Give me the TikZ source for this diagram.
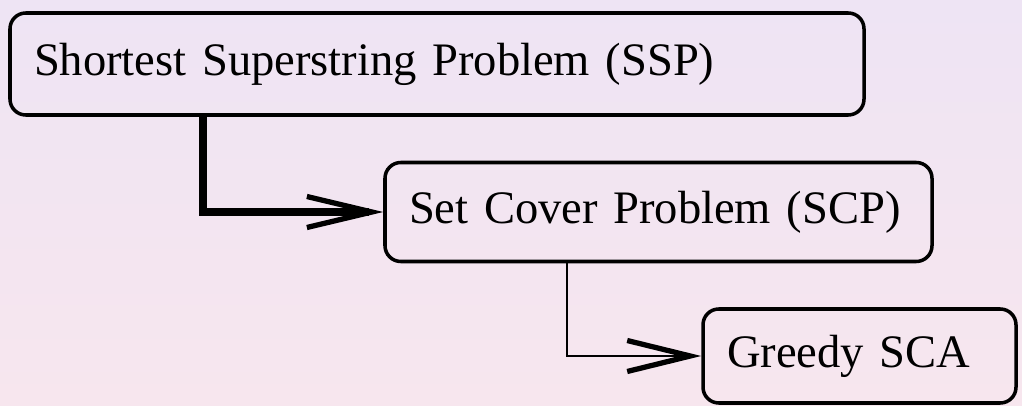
\documentclass[tikz,border=0pt]{standalone}
\usepackage{fontspec}
\setmainfont{Liberation Serif}
\usetikzlibrary{arrows.meta, positioning, calc}
\definecolor{fondoarriba}{RGB}{238,228,244}
\definecolor{fondoabajo}{RGB}{247,230,238}

\begin{document}
\begin{tikzpicture}[
    caja/.style   = {rectangle, rounded corners=9pt, draw=black, line width=2pt,
                     align=left, inner xsep=0.48cm, font=\fontsize{26.5}{32}\selectfont},
    gruesa/.style = {line width=5pt, -{Straight Barb[length=1.3cm, width=0.62cm, line width=3pt]}},
    fina/.style   = {line width=0.6pt, -{Straight Barb[length=1.26cm, width=0.62cm, line width=3pt]}},
]

% Fondo
\shade[top color=fondoarriba, bottom color=fondoabajo, draw=none]
    (0,0) rectangle (20.44,-8.12);
\useasboundingbox (0,0) rectangle (20.44,-8.12);

% Cajas
\node[caja, minimum width=17.08cm, minimum height=2.04cm, text width=16.12cm] (ssp) at (8.74,-1.28)
    {Shortest Superstring Problem (SSP)};
\node[caja, minimum width=10.94cm, minimum height=1.98cm, text width=9.98cm] (scp) at (13.17,-4.24)
    {Set Cover Problem (SCP)};
\node[caja, minimum width=6.26cm, minimum height=1.88cm, text width=5.3cm] (gsca) at (17.19,-7.12)
    {Greedy SCA};

% Codos
\coordinate (k1) at (4.06,0);
\coordinate (k2) at (11.34,0);

% Flechas
\draw[gruesa] (ssp.south -| k1) |- (scp.west);
\draw[fina] (scp.south -| k2) |- (gsca.west);

\end{tikzpicture}
\end{document}
